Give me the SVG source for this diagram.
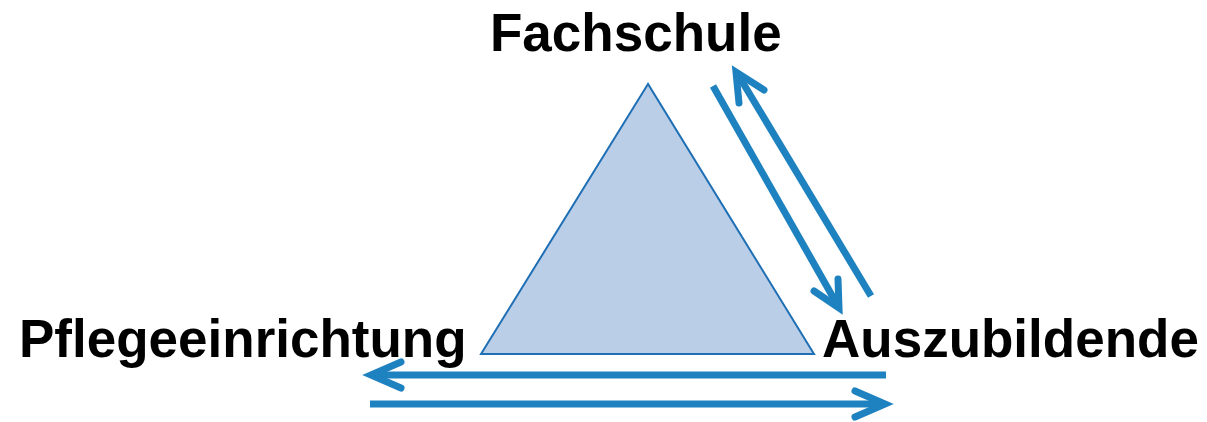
<svg xmlns="http://www.w3.org/2000/svg" width="1207" height="422" viewBox="0 0 1207 422">
<style>
.lbl{font-family:"Liberation Sans",Arial,sans-serif;font-weight:bold;font-size:53px;fill:#000}
.arr{stroke:#1F82C0;stroke-width:7;stroke-linecap:butt;fill:none}
.head{stroke:#1F82C0;stroke-width:7;stroke-linecap:round;stroke-linejoin:miter;fill:none}
</style>
<rect width="1207" height="422" fill="#fff"/>
<g id="triangle">
<polygon points="648,84 481,354 814,354" fill="#BBCEE8" stroke="#1F6FB5" stroke-width="2"/>
</g>
<g id="fachschule"><text class="lbl" x="490" y="51">Fachschule</text></g>
<g id="pflegeeinrichtung"><text class="lbl" x="19" y="357">Pflegeeinrichtung</text></g>
<g id="auszubildende"><text class="lbl" x="822" y="357">Auszubildende</text></g>
<g id="connectors">
<line class="arr" x1="713" y1="86" x2="838" y2="306"/>
<polyline class="head" points="814,291 839,308 838,279"/>
<line class="arr" x1="871" y1="296" x2="737" y2="73"/>
<polyline class="head" points="739,103 736,72 764,90"/>
<line class="arr" x1="886" y1="375" x2="374" y2="375"/>
<polyline class="head" points="401,362 371,375 401,388"/>
<line class="arr" x1="370" y1="404" x2="882" y2="404"/>
<polyline class="head" points="855,391 885,404 855,417"/>
</g>
</svg>
